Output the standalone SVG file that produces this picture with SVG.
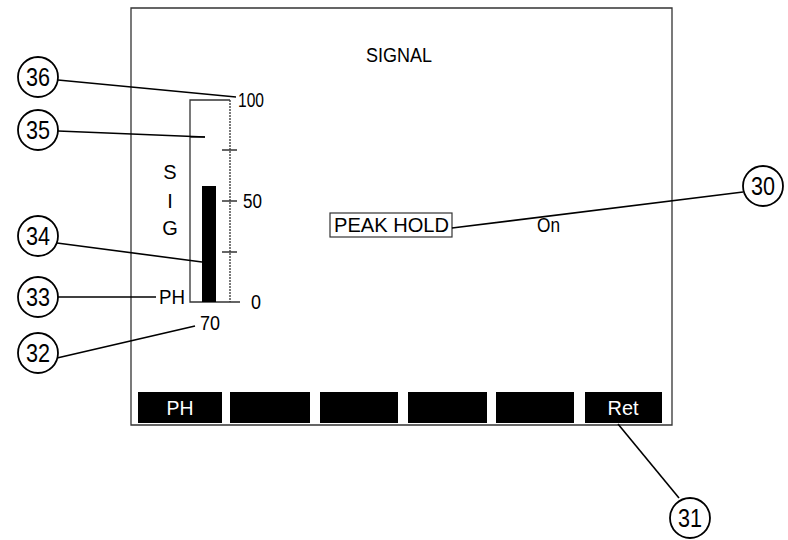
<svg xmlns="http://www.w3.org/2000/svg" width="788" height="540" viewBox="0 0 788 540">
<style>
.t{font-family:"Liberation Sans",Arial,sans-serif;fill:#000;font-size:20px}
.c{fill:#fff;stroke:#000;stroke-width:1.8}
.cn{font-family:"Liberation Sans",Arial,sans-serif;font-size:26px;text-anchor:middle;fill:#000}
.ld{stroke:#000;stroke-width:1.6;fill:none}
.fr{stroke:#333;stroke-width:1.3;fill:none}
.btn{fill:#000}
.bt{font-family:"Liberation Sans",Arial,sans-serif;font-size:20px;fill:#fff;text-anchor:middle}
</style>
<rect width="788" height="540" fill="#fff"/>
<g id="screen">
<path class="fr" d="M131 8 H672 V425 H131 Z"/>
<text class="t" x="366" y="62" textLength="66" lengthAdjust="spacingAndGlyphs">SIGNAL</text>
</g>
<g id="scale">
<path class="fr" d="M230 100 H190 V302 H240"/>
<path class="fr" d="M230 100 V302" stroke-dasharray="2 1"/>
<path class="fr" d="M222 150 H237 M222 201 H237 M222 252 H237 M190 137 H205"/>
<rect x="202" y="186" width="14" height="116" fill="#000"/>
<text class="t" x="238" y="107" textLength="26" lengthAdjust="spacingAndGlyphs">100</text>
<text class="t" x="243" y="208" textLength="19" lengthAdjust="spacingAndGlyphs">50</text>
<text class="t" x="251" y="309" textLength="10" lengthAdjust="spacingAndGlyphs">0</text>
<text class="t" x="170" y="179" text-anchor="middle">S</text>
<text class="t" x="170" y="208" text-anchor="middle">I</text>
<text class="t" x="170" y="235" text-anchor="middle">G</text>
<text class="t" x="159" y="304" textLength="26" lengthAdjust="spacingAndGlyphs">PH</text>
<text class="t" x="200" y="330" textLength="20" lengthAdjust="spacingAndGlyphs">70</text>
</g>
<g id="peak-hold">
<rect x="330" y="213" width="122" height="24" fill="none" stroke="#333" stroke-width="1.2"/>
<text class="t" x="334" y="232" textLength="115" lengthAdjust="spacingAndGlyphs">PEAK HOLD</text>
<text class="t" x="537" y="232" textLength="23" lengthAdjust="spacingAndGlyphs">On</text>
</g>
<g id="softkeys">
<rect class="btn" x="138" y="392" width="84" height="31"/>
<rect class="btn" x="230" y="392" width="80" height="31"/>
<rect class="btn" x="320" y="392" width="78" height="31"/>
<rect class="btn" x="408" y="392" width="79" height="31"/>
<rect class="btn" x="496" y="392" width="78" height="31"/>
<rect class="btn" x="585" y="392" width="77" height="31"/>
<text class="bt" x="180" y="415" textLength="27" lengthAdjust="spacingAndGlyphs">PH</text>
<text class="bt" x="623" y="415" textLength="31" lengthAdjust="spacingAndGlyphs">Ret</text>
</g>
<g id="connectors">
<line class="ld" x1="58" y1="80" x2="236" y2="97"/>
<line class="ld" x1="58" y1="131" x2="205" y2="137"/>
<line class="ld" x1="57" y1="243" x2="202" y2="262"/>
<line class="ld" x1="58" y1="297" x2="156" y2="297"/>
<line class="ld" x1="57" y1="358" x2="195" y2="326"/>
<line class="ld" x1="743" y1="192" x2="452" y2="228"/>
<line class="ld" x1="679" y1="498" x2="618" y2="424"/>
</g>
<g id="c36"><circle class="c" cx="38" cy="77" r="20"/><text class="cn" x="38" y="86" textLength="24" lengthAdjust="spacingAndGlyphs">36</text></g>
<g id="c35"><circle class="c" cx="38" cy="130" r="20"/><text class="cn" x="38" y="139" textLength="24" lengthAdjust="spacingAndGlyphs">35</text></g>
<g id="c34"><circle class="c" cx="38" cy="236" r="20"/><text class="cn" x="38" y="245" textLength="24" lengthAdjust="spacingAndGlyphs">34</text></g>
<g id="c33"><circle class="c" cx="38" cy="297" r="20"/><text class="cn" x="38" y="306" textLength="24" lengthAdjust="spacingAndGlyphs">33</text></g>
<g id="c32"><circle class="c" cx="38" cy="353" r="20"/><text class="cn" x="38" y="362" textLength="24" lengthAdjust="spacingAndGlyphs">32</text></g>
<g id="c30"><circle class="c" cx="763" cy="186" r="20"/><text class="cn" x="763" y="195" textLength="24" lengthAdjust="spacingAndGlyphs">30</text></g>
<g id="c31"><circle class="c" cx="690" cy="518" r="20"/><text class="cn" x="690" y="527" textLength="24" lengthAdjust="spacingAndGlyphs">31</text></g>
</svg>
